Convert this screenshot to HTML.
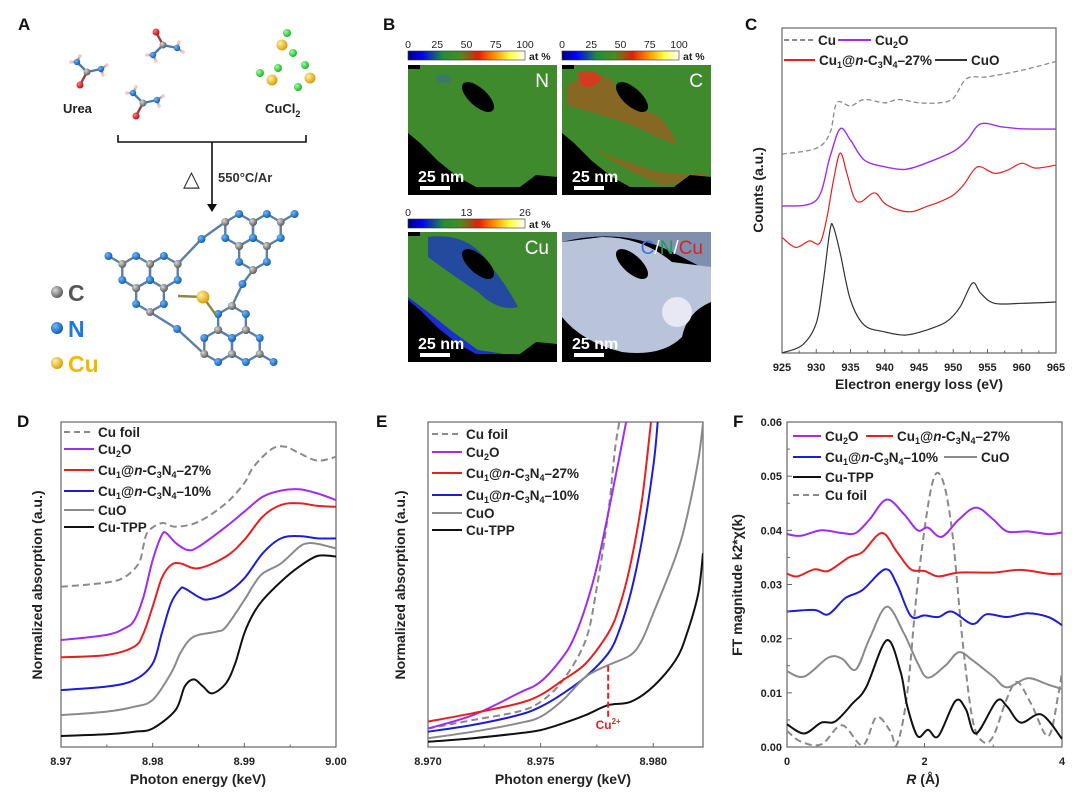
<!DOCTYPE html>
<html><head><meta charset="utf-8">
<style>
html,body{margin:0;padding:0;background:#fff;}
svg{display:block;font-family:"Liberation Sans",Arial,sans-serif;}
text{font-family:"Liberation Sans",Arial,sans-serif;}
</style></head>
<body>
<svg id="fig" width="1080" height="802" viewBox="0 0 1080 802" xmlns="http://www.w3.org/2000/svg">
<defs>
<linearGradient id="cbar" x1="0" x2="1" y1="0" y2="0">
<stop offset="0" stop-color="#000080"/><stop offset="0.12" stop-color="#0000ff"/><stop offset="0.3" stop-color="#1f8f3a"/><stop offset="0.45" stop-color="#4a8c1e"/><stop offset="0.6" stop-color="#e0200a"/><stop offset="0.75" stop-color="#ff9a00"/><stop offset="0.87" stop-color="#ffff40"/><stop offset="1" stop-color="#ffffff"/>
</linearGradient>
<radialGradient id="gC" cx="0.35" cy="0.35" r="0.7"><stop offset="0" stop-color="#d8d8d8"/><stop offset="1" stop-color="#555"/></radialGradient>
<radialGradient id="gN" cx="0.35" cy="0.35" r="0.7"><stop offset="0" stop-color="#6fb6ff"/><stop offset="1" stop-color="#0b5aa8"/></radialGradient>
<radialGradient id="gCu" cx="0.35" cy="0.35" r="0.7"><stop offset="0" stop-color="#fff0a0"/><stop offset="1" stop-color="#d89a00"/></radialGradient>
<radialGradient id="gCl" cx="0.35" cy="0.35" r="0.7"><stop offset="0" stop-color="#a0ffa0"/><stop offset="1" stop-color="#10b020"/></radialGradient>
<radialGradient id="gO" cx="0.35" cy="0.35" r="0.7"><stop offset="0" stop-color="#ff8080"/><stop offset="1" stop-color="#c00000"/></radialGradient>
<clipPath id="clipE"><rect x="428" y="422" width="275" height="325"/></clipPath>
</defs>

<g font-weight="bold" font-size="17" fill="#111">
<text x="18" y="30">A</text>
<text x="383" y="30">B</text>
<text x="745" y="30">C</text>
<text x="17" y="427">D</text>
<text x="376" y="427">E</text>
<text x="733" y="427">F</text>
</g>

<g id="panelA">
<text x="63" y="113" font-size="13" font-weight="bold" fill="#222">Urea</text>
<text x="265" y="113" font-size="13" font-weight="bold" fill="#222">CuCl<tspan font-size="9" dy="4">2</tspan></text>
<path d="M118,135 V142 H306 V135 M212,142 V206" stroke="#111" stroke-width="1.6" fill="none"/>
<path d="M207,204 L212,212 L217,204 Z" fill="#111"/>
<text x="183" y="186" font-size="22" fill="#333">△</text>
<text x="218" y="182" font-size="13" font-weight="bold" fill="#333">550°C/Ar</text>
<g id="molA"></g>
<circle cx="57" cy="292" r="6" fill="url(#gC)"/>
<text x="68" y="301" font-size="23" font-weight="bold" fill="#555">C</text>
<circle cx="57" cy="328" r="6" fill="url(#gN)"/>
<text x="68" y="337" font-size="23" font-weight="bold" fill="#1a7ae0">N</text>
<circle cx="57" cy="363" r="6" fill="url(#gCu)"/>
<text x="68" y="372" font-size="23" font-weight="bold" fill="#f0b800">Cu</text>
</g>

<g id="panelB"></g>

<g id="chartC"></g>
<g id="chartD"></g>
<g id="chartE"></g>
<g id="chartF"></g>
</svg>

<script>
// ---------- Panel C data (eV vs a.u.) ----------
const cCuX=[925,930,932,933,935,937,940,942,945,948,950,952,955,960,965];
const cCuY=[61.2,63,67.7,77,76,78,77,78,77,77,78.4,84.5,85,87,89.7];
const cCu2OX=[925,930,932,933.5,935,937,940,943,946,950,952,954,957,960,965];
const cCu2OY=[45.2,47,60.4,69,65.5,59.4,57.3,56.5,58.4,62,65.5,70.5,69.6,69,68.9];
const cCu1X=[925,927,929,930.5,931.5,932.5,933.5,934.5,935.5,936.5,938.5,940,942,944,946,948,950,951.5,953,954,956,958,960,962,965];
const cCu1Y=[35.6,32.5,34.5,33.8,41,53,61.5,55,48,46.5,49.3,46,44,43.5,45,46.5,48.6,51.7,56.3,57.3,55.3,56.3,58.4,56.9,57.8];
const cCuOX=[925,928,930,931,932,932.5,933.5,935,937,940,943,946,949,951,952.8,954,956,960,965];
const cCuOY=[0,2.5,9.2,21.5,37.8,38.8,30.7,16.3,8.6,6.5,5.5,7,9.6,14.2,21.5,18.4,15.3,15.3,15.7];
const cTicks=[925,930,935,940,945,950,955,960,965];

// ---------- Panel D data (keV vs a.u.) ----------
const dFoilX=[8.970,8.975,8.977,8.9785,8.979,8.9795,8.981,8.9825,8.985,8.988,8.990,8.991,8.993,8.9945,8.996,8.998,9.000];
const dFoilY=[49.3,50.6,52.4,56.6,62,66.3,68.9,67.8,69.3,75,81.2,86.2,91.7,92.4,90.4,88.1,89.3];
const dCu2OX=[8.970,8.975,8.977,8.978,8.979,8.980,8.981,8.9815,8.9825,8.9838,8.985,8.988,8.990,8.992,8.994,8.996,8.998,9.000];
const dCu2OY=[32.9,34.5,36.6,39,46.2,57.5,65.2,65.8,62.8,60.6,61.6,67.8,72.4,77,78.9,79.3,78,76];
const d27X=[8.970,8.975,8.978,8.979,8.980,8.981,8.982,8.983,8.985,8.988,8.990,8.992,8.994,8.996,8.998,9.000];
const d27Y=[27.6,28.3,30.9,35,43.2,52,56,56.5,55,58.6,63.7,70.9,74.5,75,74.2,73.9];
const d10X=[8.970,8.975,8.978,8.980,8.981,8.982,8.983,8.9835,8.985,8.986,8.988,8.990,8.992,8.994,8.996,8.998,9.000];
const d10Y=[17.5,18.6,20.6,25.7,35,44.2,48.6,48.8,46.2,45.4,47.3,51.9,59.6,64.2,64.9,64.2,64.2];
const dCuOX=[8.970,8.975,8.978,8.980,8.982,8.983,8.984,8.985,8.987,8.988,8.990,8.991,8.992,8.994,8.996,8.997,8.998,9.000];
const dCuOY=[9.8,10.9,12.4,14.5,22.7,28.8,32.9,34.5,35.5,37,45.2,49.8,53.4,56.5,61.6,62.7,62.5,61.1];
const dTPPX=[8.970,8.975,8.978,8.980,8.9825,8.9835,8.9845,8.9855,8.9865,8.988,8.989,8.990,8.991,8.992,8.994,8.996,8.998,9.000];
const dTPPY=[3.4,3.9,4.7,5.7,11.4,18.6,20.8,18.6,16.5,19.6,25.7,35,41.1,45.2,50.9,55.5,58.8,58.6];
const dTicks=[8.97,8.98,8.99,9.00];
const dTickLabels=["8.97","8.98","8.99","9.00"];

// ---------- Panel E data ----------
const eCu2OX=[8.970,8.972,8.974,8.975,8.976,8.9765,8.977,8.9775,8.978,8.9785,8.9788];
const eCu2OY=[5.7,9.8,16.5,20.1,27.8,33.9,43.2,55.5,71.9,89.3,100.1];
const eFoilX=[8.970,8.972,8.974,8.975,8.976,8.977,8.9775,8.978,8.9783,8.9785];
const eFoilY=[5.7,8.3,10.9,13.9,20.6,32.9,49.3,71.9,91.4,100.1];
const e27X=[8.970,8.972,8.974,8.975,8.976,8.977,8.978,8.9785,8.979,8.9795,8.9799];
const e27Y=[7.8,10.4,13.4,16,20.6,25.7,35,43.2,56.5,76,100];
const e10X=[8.970,8.972,8.974,8.975,8.976,8.977,8.978,8.9785,8.979,8.9795,8.980,8.9802];
const e10Y=[4.7,6.8,9.8,12.4,16.5,21.6,28.8,36,47.3,63.7,86.2,100];
const eCuOX=[8.970,8.972,8.974,8.975,8.976,8.977,8.978,8.979,8.9795,8.980,8.981,8.9815,8.982,8.98221];
const eCuOY=[2.7,4.7,7.3,9.3,14.5,21.6,25.2,28.3,32.9,41.1,58.6,70.9,88.3,99.6];
const eTPPX=[8.970,8.972,8.974,8.975,8.976,8.977,8.978,8.979,8.980,8.981,8.9815,8.982,8.98221];
const eTPPY=[1.6,2.7,4.2,5.2,7.3,9.8,12.9,13.9,18.6,26.8,35,47.3,59.6];
const eMarkerX=[8.978];
const eMarkerY=[25,9.3];
const eTicks=[8.970,8.975,8.980];
const eTickLabels=["8.970","8.975","8.980"];

// ---------- Panel F data (Å vs magnitude) ----------
const fCu2OX=[0,0.2,0.5,0.8,1.0,1.2,1.45,1.7,1.9,2.05,2.25,2.5,2.75,3.0,3.2,3.5,3.8,4];
const fCu2OY=[0.0393,0.039,0.040,0.0395,0.0395,0.042,0.0457,0.043,0.040,0.0405,0.0388,0.042,0.0442,0.042,0.0398,0.0398,0.0393,0.0396];
const f27X=[0,0.15,0.4,0.6,0.9,1.1,1.38,1.6,1.8,2.0,2.2,2.5,3.0,3.4,3.8,4];
const f27Y=[0.032,0.0315,0.0328,0.0325,0.035,0.036,0.0395,0.036,0.0328,0.0325,0.0315,0.0322,0.0322,0.0327,0.032,0.032];
const f10X=[0,0.4,0.6,0.85,1.1,1.43,1.6,1.8,2.0,2.2,2.4,2.7,2.9,3.2,3.5,3.8,4];
const f10Y=[0.025,0.0253,0.0245,0.0275,0.029,0.0328,0.030,0.0242,0.0243,0.024,0.025,0.0227,0.0245,0.024,0.0247,0.024,0.0225];
const fCuOX=[0,0.25,0.6,0.8,1.0,1.2,1.45,1.7,1.9,2.05,2.3,2.5,2.7,3.0,3.2,3.5,3.8,4];
const fCuOY=[0.014,0.013,0.0165,0.0163,0.0143,0.020,0.0259,0.021,0.0155,0.0128,0.015,0.0175,0.016,0.013,0.011,0.0127,0.0115,0.0107];
const fTPPX=[0,0.25,0.5,0.7,0.95,1.15,1.45,1.65,1.75,1.9,2.05,2.2,2.45,2.6,2.75,3.05,3.2,3.4,3.7,4];
const fTPPY=[0.0042,0.0025,0.0045,0.0047,0.008,0.011,0.0197,0.014,0.0075,0.002,0.0032,0.002,0.0085,0.007,0.0025,0.0085,0.0075,0.0045,0.006,0.0015];
const fFoilX=[0,0.2,0.5,0.8,1.1,1.3,1.5,1.6,1.75,1.9,2.1,2.25,2.4,2.55,2.7,2.85,3.0,3.2,3.35,3.55,3.8,3.95,4];
const fFoilY=[0.003,0.001,0.0005,0.004,0.0003,0.0055,0.003,0.0005,0.01,0.030,0.048,0.0497,0.04,0.020,0.005,0.001,0.002,0.009,0.012,0.008,0.002,0.010,0.014];
const fXTicks=[0,2,4];
const fYTicks=[0,0.01,0.02,0.03,0.04,0.05,0.06];

const NS="http://www.w3.org/2000/svg";
function mk(parent,tag,attrs){const e=document.createElementNS(NS,tag);for(const k in attrs)e.setAttribute(k,attrs[k]);parent.appendChild(e);return e;}
function txt(parent,x,y,s,attrs){const t=mk(parent,'text',Object.assign({x:x,y:y},attrs||{}));t.innerHTML=s;return t;}

function scaleLin(d0,d1,r0,r1){return v=>r0+(v-d0)/(d1-d0)*(r1-r0);}
function spline(xs,ys,sx,sy){
  const p=xs.map((x,i)=>[sx(x),sy(ys[i])]);
  let d='M'+p[0][0].toFixed(1)+','+p[0][1].toFixed(1);
  for(let i=0;i<p.length-1;i++){
    const p0=p[i-1]||p[i],p1=p[i],p2=p[i+1],p3=p[i+2]||p[i+1];
    const c1=[p1[0]+(p2[0]-p0[0])/6,p1[1]+(p2[1]-p0[1])/6];
    const c2=[p2[0]-(p3[0]-p1[0])/6,p2[1]-(p3[1]-p1[1])/6];
    d+=' C'+c1[0].toFixed(1)+','+c1[1].toFixed(1)+' '+c2[0].toFixed(1)+','+c2[1].toFixed(1)+' '+p2[0].toFixed(1)+','+p2[1].toFixed(1);
  }
  return d;
}
const COL={purple:'#a02cf0',red:'#e52020',blue:'#1d1dd8',gray:'#8a8a8a',black:'#111',dash:'#8a8a8a'};

function frame(g,x0,y0,x1,y1){
  const r=mk(g,'rect',{x:x0,y:y0,width:x1-x0,height:y1-y0,fill:'none',stroke:'#666','stroke-width':1.2});
  
  
}
function series(g,xs,ys,sx,sy,color,w,dash,name,clip){
  const a={d:spline(xs,ys,sx,sy),fill:'none',stroke:color,'stroke-width':w,'stroke-linejoin':'round'};
  if(dash)a['stroke-dasharray']=dash;
  if(clip)a['clip-path']=clip;
  const p=mk(g,'path',a);
  
  
}
function legendLine(g,x0,x1,y,color,dash,label,name){
  const a={x1:x0,x2:x1,y1:y,y2:y,stroke:color,'stroke-width':2};
  if(dash)a['stroke-dasharray']=dash;
  const l=mk(g,'line',a);
  
  
  const t=txt(g,x1+4,y+5,label,{'font-size':13.5,'font-weight':'bold',fill:'#222'});
  
  
}
const L27='Cu<tspan font-size="9" dy="3">1</tspan><tspan dy="-3">@</tspan><tspan font-style="italic">n</tspan>-C<tspan font-size="9" dy="3">3</tspan><tspan dy="-3">N</tspan><tspan font-size="9" dy="3">4</tspan><tspan dy="-3">–27%</tspan>';
const L10=L27.replace('27%','10%');
const LCu2O='Cu<tspan font-size="9" dy="3">2</tspan><tspan dy="-3">O</tspan>';

function xTicks(g,vals,labels,sx,yb,minor){
  vals.forEach((v,i)=>{
    const l=mk(g,'line',{x1:sx(v),x2:sx(v),y1:yb,y2:yb-4,stroke:'#666','stroke-width':1});
    
    
    const t=txt(g,sx(v),yb+18,labels[i],{'font-size':11,'font-weight':'bold','text-anchor':'middle',fill:'#222'});
    
    
  });
  (minor||[]).forEach(v=>{mk(g,'line',{x1:sx(v),x2:sx(v),y1:yb,y2:yb-2.5,stroke:'#666','stroke-width':1});});
}
function axisTitles(g,xt,xx,xy,yt,yx,yy){
  const t=txt(g,xx,xy,xt,{'font-size':14,'font-weight':'bold','text-anchor':'middle',fill:'#222'});
  
  
  const u=txt(g,0,0,yt,{'font-size':14,'font-weight':'bold','text-anchor':'middle',fill:'#222',transform:'translate('+yx+','+yy+') rotate(-90)'});
  
  
}

// ---- Chart C ----
(function(){
  const g=document.getElementById('chartC');
  const sx=scaleLin(925,965,782,1056), sy=scaleLin(0,100,353,28);
  frame(g,782,28,1056,353);
  series(g,cCuX,cCuY,sx,sy,COL.dash,1.3,'5,3','series-cu');
  series(g,cCu2OX,cCu2OY,sx,sy,COL.purple,1.4,null,'series-cu2o');
  series(g,cCu1X,cCu1Y,sx,sy,COL.red,1.2,null,'series-cu1-27');
  series(g,cCuOX,cCuOY,sx,sy,'#333',1.2,null,'series-cuo');
  xTicks(g,cTicks,cTicks.map(String),sx,353,[927.5,932.5,937.5,942.5,947.5,952.5,957.5,962.5]);
  axisTitles(g,'Electron energy loss (eV)',919,389,'Counts (a.u.)',763,190);
  legendLine(g,784,814,40,COL.dash,'5,3','Cu','legend-cu');
  legendLine(g,838,871,40,COL.purple,null,LCu2O,'legend-cu2o');
  legendLine(g,784,815,60,COL.red,null,L27,'legend-cu1-27');
  legendLine(g,935,967,60,'#333',null,'CuO','legend-cuo');
})();

// ---- Chart D ----
(function(){
  const g=document.getElementById('chartD');
  const sx=scaleLin(8.97,9.00,61,336), sy=scaleLin(0,100,747,422);
  frame(g,61,422,336,747);
  series(g,dFoilX,dFoilY,sx,sy,COL.dash,2,'7,4','series-cu-foil');
  series(g,dCu2OX,dCu2OY,sx,sy,COL.purple,2,null,'series-cu2o');
  series(g,d27X,d27Y,sx,sy,COL.red,2,null,'series-cu1-27');
  series(g,d10X,d10Y,sx,sy,COL.blue,2,null,'series-cu1-10');
  series(g,dCuOX,dCuOY,sx,sy,COL.gray,2,null,'series-cuo');
  series(g,dTPPX,dTPPY,sx,sy,COL.black,2,null,'series-cu-tpp');
  xTicks(g,dTicks,dTickLabels,sx,747,[8.975,8.985,8.995]);
  axisTitles(g,'Photon energy (keV)',198,784,'Normalized absorption (a.u.)',42,585);
  const ys=[432,449,470,491,510,527];
  legendLine(g,64,94,ys[0],COL.dash,'6,4','Cu foil','legend-cu-foil');
  legendLine(g,64,94,ys[1],COL.purple,null,LCu2O,'legend-cu2o');
  legendLine(g,64,94,ys[2],COL.red,null,L27,'legend-cu1-27');
  legendLine(g,64,94,ys[3],COL.blue,null,L10,'legend-cu1-10');
  legendLine(g,64,94,ys[4],COL.gray,null,'CuO','legend-cuo');
  legendLine(g,64,94,ys[5],COL.black,null,'Cu-TPP','legend-cu-tpp');
})();

// ---- Chart E ----
(function(){
  const g=document.getElementById('chartE');
  const sx=scaleLin(8.970,8.98221,428,703), sy=scaleLin(0,100,747,422);
  frame(g,428,422,703,747);
  series(g,eFoilX,eFoilY,sx,sy,COL.dash,2,'7,4','series-cu-foil','url(#clipE)');
  series(g,eCu2OX,eCu2OY,sx,sy,COL.purple,2,null,'series-cu2o','url(#clipE)');
  series(g,e27X,e27Y,sx,sy,COL.red,2,null,'series-cu1-27','url(#clipE)');
  series(g,e10X,e10Y,sx,sy,COL.blue,2,null,'series-cu1-10','url(#clipE)');
  series(g,eCuOX,eCuOY,sx,sy,COL.gray,2,null,'series-cuo','url(#clipE)');
  series(g,eTPPX,eTPPY,sx,sy,COL.black,2,null,'series-cu-tpp','url(#clipE)');
  const m=mk(g,'line',{x1:sx(eMarkerX[0]),x2:sx(eMarkerX[0]),y1:sy(eMarkerY[0]),y2:sy(eMarkerY[1]),stroke:'#e52020','stroke-width':2,'stroke-dasharray':'6,3'});
  
  
  const t=txt(g,sx(eMarkerX[0]),sy(eMarkerY[1])+12,'Cu<tspan font-size="8" dy="-5">2+</tspan>',{'font-size':12,'font-weight':'bold','text-anchor':'middle',fill:'#e52020'});
  
  
  xTicks(g,eTicks,eTickLabels,sx,747,[8.9725,8.9775]);
  axisTitles(g,'Photon energy (keV)',563,784,'Normalized absorption (a.u.)',405,585);
  const ys=[434,452,473,495,513,530];
  legendLine(g,432,462,ys[0],COL.dash,'6,4','Cu foil','legend-cu-foil');
  legendLine(g,432,462,ys[1],COL.purple,null,LCu2O,'legend-cu2o');
  legendLine(g,432,462,ys[2],COL.red,null,L27,'legend-cu1-27');
  legendLine(g,432,462,ys[3],COL.blue,null,L10,'legend-cu1-10');
  legendLine(g,432,462,ys[4],COL.gray,null,'CuO','legend-cuo');
  legendLine(g,432,462,ys[5],COL.black,null,'Cu-TPP','legend-cu-tpp');
})();

// ---- Chart F ----
(function(){
  const g=document.getElementById('chartF');
  const sx=scaleLin(0,4,787,1062), sy=scaleLin(0,0.06,747,422);
  frame(g,787,422,1062,747);
  series(g,fFoilX,fFoilY,sx,sy,COL.dash,2,'7,4','series-cu-foil');
  series(g,fCu2OX,fCu2OY,sx,sy,COL.purple,2,null,'series-cu2o');
  series(g,f27X,f27Y,sx,sy,COL.red,2,null,'series-cu1-27');
  series(g,f10X,f10Y,sx,sy,COL.blue,2,null,'series-cu1-10');
  series(g,fCuOX,fCuOY,sx,sy,COL.gray,2,null,'series-cuo');
  series(g,fTPPX,fTPPY,sx,sy,COL.black,2,null,'series-cu-tpp');
  xTicks(g,fXTicks,fXTicks.map(String),sx,747,[1,3]);
  fYTicks.forEach(v=>{
    const l=mk(g,'line',{x1:787,x2:792,y1:sy(v),y2:sy(v),stroke:'#666','stroke-width':1});
    
    
    const t=txt(g,782,sy(v)+4,v.toFixed(2),{'font-size':11,'font-weight':'bold','text-anchor':'end',fill:'#222'});
    
    
    if(v<0.06)mk(g,'line',{x1:787,x2:790,y1:sy(v+0.005),y2:sy(v+0.005),stroke:'#666','stroke-width':1});
  });
  axisTitles(g,'<tspan font-style="italic">R</tspan> (Å)',923,784,'FT magnitude k2*χ(k)',742,585);
  legendLine(g,793,821,436,COL.purple,null,LCu2O,'legend-cu2o');
  legendLine(g,866,893,436,COL.red,null,L27,'legend-cu1-27');
  legendLine(g,793,821,457,COL.blue,null,L10,'legend-cu1-10');
  legendLine(g,944,977,457,COL.gray,null,'CuO','legend-cuo');
  legendLine(g,793,821,477,COL.black,null,'Cu-TPP','legend-cu-tpp');
  legendLine(g,793,821,495,COL.dash,'6,4','Cu foil','legend-cu-foil');
})();

// ---- Panel B maps ----
(function(){
  const g=document.getElementById('panelB');
  function cbar(x,y,labels,name){
    const r=mk(g,'rect',{x:x,y:y,width:117,height:9,fill:'url(#cbar)',stroke:'#333','stroke-width':0.6});
    
    
    labels.forEach((l,i)=>{txt(g,x+i*117/(labels.length-1),y-3,l,{'font-size':10.5,'text-anchor':'middle',fill:'#222'});});
    txt(g,x+121,y+9,'at %',{'font-size':10.5,'font-weight':'bold',fill:'#222'});
  }
  cbar(408,51,['0','25','50','75','100'],'n-colorbar');
  cbar(562,51,['0','25','50','75','100'],'c-colorbar');
  cbar(408,219,['0','13','26'],'cu-colorbar');
  function map(ox,oy,base,label,lc,name,extra){
    const m=mk(g,'g',{transform:'translate('+ox+','+oy+')'});
    
    
    mk(m,'rect',{x:0,y:0,width:149,height:130,fill:base});
    if(extra)extra(m);
    mk(m,'path',{d:'M0,0 H12 V4 H0 Z',fill:'#000'});
    mk(m,'path',{d:'M0,68 L12,78 L30,96 L50,112 L68,122 L112,122 L128,110 L149,112 V130 H0 Z',fill:'#000'});
    mk(m,'ellipse',{cx:70,cy:32,rx:20,ry:9,transform:'rotate(42 70 32)',fill:'#000'});
    const t=txt(m,141,22,label,{'font-size':19,'text-anchor':'end',fill:lc});
    
    
    txt(m,10,117,'25 nm',{'font-size':16,'font-weight':'bold',fill:'#fff'});
    mk(m,'rect',{x:12,y:121,width:30,height:4,fill:'#fff'});
  }
  map(408,65,'#3e8a2c','N','#fff','n-map',function(m){mk(m,'rect',{x:28,y:10,width:14,height:8,fill:'#3a7a6a'});});
  map(562,65,'#3e8a2c','C','#fff','c-map',function(m){
    mk(m,'path',{d:'M5,20 Q30,5 50,15 Q60,40 95,50 Q110,65 115,80 Q90,70 70,60 Q40,50 5,40 Z',fill:'#b8501e',opacity:0.6});
    mk(m,'path',{d:'M15,8 Q30,2 40,12 Q35,22 20,22 Z',fill:'#e83020',opacity:0.8});
    mk(m,'path',{d:'M20,75 Q60,105 100,120 L140,118 L145,108 Q100,112 70,98 Q40,90 20,75 Z',fill:'#b8501e',opacity:0.55});
  });
  map(408,232,'#3f8a30','Cu','#fff','cu-map',function(m){
    mk(m,'path',{d:'M20,5 Q60,0 80,30 Q100,55 110,75 Q90,80 70,60 Q40,40 20,25 Z',fill:'#1a2fd0',opacity:0.7});
    mk(m,'path',{d:'M0,65 L20,80 L45,100 L70,118 L110,124 L149,115 L149,125 L0,125 Z',fill:'#1a2fd0'});
  });
  const c=mk(g,'g',{transform:'translate(562,232)'});
  
  
  mk(c,'rect',{x:0,y:0,width:149,height:130,fill:'#000'});
  mk(c,'path',{d:'M0,10 Q60,-5 110,20 L149,40 L149,0 L0,0 Z',fill:'#7f8fae'});
  mk(c,'path',{d:'M0,10 L40,5 Q80,5 110,30 L149,35 L149,70 Q125,80 120,105 Q100,125 60,120 Q20,110 0,85 Z',fill:'#b9c3d9'});
  mk(c,'ellipse',{cx:70,cy:32,rx:20,ry:9,transform:'rotate(42 70 32)',fill:'#000'});
  mk(c,'circle',{cx:115,cy:80,r:15,fill:'#e8e8f4'});
  const ct=txt(c,141,22,'<tspan fill="#3a74d8">C</tspan><tspan fill="#fff">/</tspan><tspan fill="#1ea050">N</tspan><tspan fill="#fff">/</tspan><tspan fill="#e02020">Cu</tspan>',{'font-size':19,'text-anchor':'end'});
  
  
  txt(c,10,117,'25 nm',{'font-size':16,'font-weight':'bold',fill:'#fff'});
  mk(c,'rect',{x:12,y:121,width:30,height:4,fill:'#fff'});
})();

// ---- Panel A molecules ----
(function(){
  const g=document.getElementById('molA');
  function atom(x,y,r,f){mk(g,'circle',{cx:x,cy:y,r:r,fill:f});}
  function bond(a,b,c){mk(g,'line',{x1:a[0],y1:a[1],x2:b[0],y2:b[1],stroke:c||'#4a7ab0','stroke-width':2.4});}
  const ureas=[[87,72,1],[163,45,-1],[143,103,1]];
  ureas.forEach(u=>{
    const [x,y,s]=u;const C=[x,y],N1=[x-10,y-10*s],N2=[x+14,y-3*s],O=[x-7,y+13*s];
    bond(C,N1);bond(C,N2);bond(C,O,'#a04040');
    [[N1,[N1[0]-6,N1[1]]],[N1,[N1[0]+3,N1[1]-6*s]],[N2,[N2[0]+6,N2[1]-4*s]],[N2,[N2[0]+2,N2[1]+6*s]]].forEach(h=>{bond(h[0],h[1],'#c8a0a0');atom(h[1][0],h[1][1],1.8,'#f0c8c8');});
    atom(...O,3.5,'url(#gO)');atom(...C,3.5,'url(#gC)');atom(...N1,3.2,'url(#gN)');atom(...N2,3.2,'url(#gN)');
  });
  [[282,45,287,33,293,53],[272,80,260,73,278,68],[310,78,305,65,298,87]].forEach(a=>{
    atom(a[2],a[3],4,'url(#gCl)');atom(a[4],a[5],4,'url(#gCl)');atom(a[0],a[1],5.5,'url(#gCu)');
  });
  // heptazine network
  const s=16;const atoms=[];const bonds=[];
  function hept(cx,cy,th){
    const tips=[];
    for(let k=0;k<3;k++){
      const a=th+k*2*Math.PI/3;const hx=cx+s*Math.cos(a),hy=cy+s*Math.sin(a);
      let prev=null,first=null;
      for(let j=0;j<6;j++){
        const b=a+Math.PI+j*Math.PI/3;const p=[hx+s*Math.cos(b),hy+s*Math.sin(b),(j%2===0)?'N':'C'];
        if(prev)bonds.push([prev,p]);else first=p;prev=p;atoms.push(p);
        if(j===3)tips.push(p);
      }
      bonds.push([prev,first]);
    }
    return tips;
  }
  const deg=Math.PI/180;
  const t1=hept(150,280,210*deg), t2=hept(253,238,90*deg), t3=hept(232,338,-90*deg);
  const extra=[];
  function ext(tip,cx,cy){const dx=tip[0]-cx,dy=tip[1]-cy,l=Math.hypot(dx,dy);const p=[tip[0]+dx/l*s,tip[1]+dy/l*s,'N'];bonds.push([tip,p]);extra.push(p);}
  function bridge(a,b){const p=[(a[0]+b[0])/2,(a[1]+b[1])/2-4,'N'];bonds.push([a,p]);bonds.push([p,b]);extra.push(p);}
  ext(t1[0],150,280);            // left terminal
  bridge(t1[1],t2[1]);            // unit1 upper-right to unit2 left
  ext(t2[2],253,238);             // unit2 upper-right terminal
  bridge(t2[0],t3[0]);            // unit2 bottom to unit3 top
  ext(t3[1],232,338);             // unit3 terminal
  bridge(t1[2],t3[2]);            // unit1 bottom to unit3 left
  bonds.forEach(b=>bond(b[0],b[1],'#5a7fa8'));
  atoms.concat(extra).forEach(p=>atom(p[0],p[1],4,p[2]==='N'?'url(#gN)':'url(#gC)'));
  bond([178,296],[203,297],'#8a8a40');bond([203,297],[216,315],'#8a8a40');
  atom(203,297,6.5,'url(#gCu)');
})();
</script>
</body></html>
